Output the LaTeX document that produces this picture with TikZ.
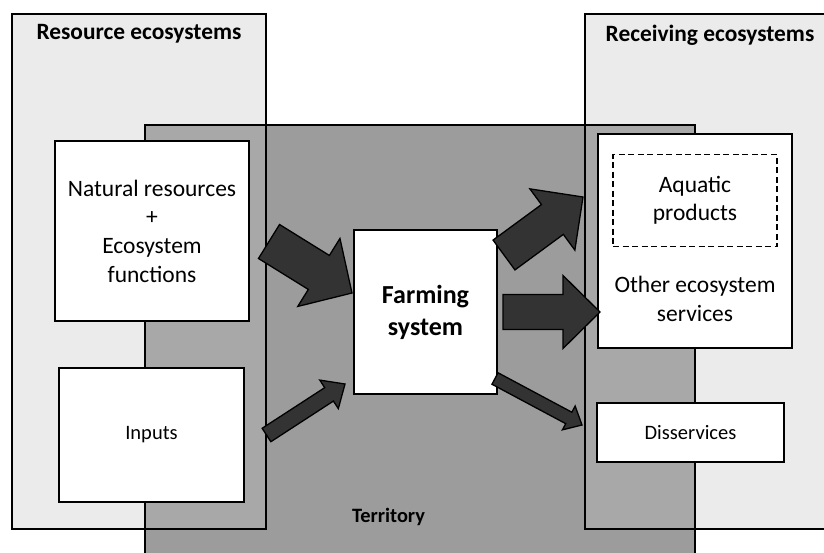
\documentclass[tikz,border=0pt]{standalone}
\usepackage{fontspec}
\setmainfont{Carlito}
\usetikzlibrary{calc}
\definecolor{ecofill}{HTML}{EBEBEB}
\definecolor{terfill}{HTML}{9C9C9C}
\definecolor{ovfill}{HTML}{A8A8A8}
\definecolor{arrfill}{HTML}{333333}
\newcommand\blockarr[5]{%
  \coordinate (hb) at ($(#2)!#5!(#1)$);
  \draw[arrowstyle] ($(#1)!#3!90:(#2)$) -- ($(hb)!#3!90:(#2)$) -- ($(hb)!#4!90:(#2)$) -- (#2)
     -- ($(hb)!#4!-90:(#2)$) -- ($(hb)!#3!-90:(#2)$) -- ($(#1)!#3!-90:(#2)$) -- cycle;
}
\tikzset{
  region/.style={inner sep=0pt, outer sep=0pt},
  regionborder/.style={draw=black, line width=1.8pt},
  whitebox/.style={draw=black, fill=white, line width=1.8pt, inner sep=0pt, outer sep=0pt, align=center,
     font=\fontsize{23.5}{28.7}\selectfont},
  smallbox/.style={whitebox, font=\fontsize{20.5}{25}\selectfont},
  dashbox/.style={draw=black, line width=1.8pt, dash pattern=on 6pt off 3.5pt, inner sep=0pt, align=center,
     font=\fontsize{23.5}{28.5}\selectfont},
  header/.style={font=\bfseries\fontsize{23.4}{28}\selectfont, inner sep=0pt},
  arrowstyle/.style={fill=arrfill, draw=black, line width=1.3pt, line join=miter},
}
\begin{document}
\begin{tikzpicture}[x=1pt, y=-1pt]
\useasboundingbox (0,0) rectangle (824,552);
% regions (fills)
\node[region, fill=terfill, minimum width=550pt, minimum height=445pt] (ter) at (420,347.5) {};
\node[region, fill=ecofill, minimum width=254pt, minimum height=515pt] (res) at (139,271.5) {};
\node[region, fill=ecofill, minimum width=250pt, minimum height=515pt] (rec) at (710,271.5) {};
\fill[ovfill] (ter.north west) rectangle (res.south east);
\fill[ovfill] (rec.south west) rectangle (ter.north east);
% region borders
\draw[regionborder] (ter.north west) rectangle (ter.south east);
\draw[regionborder] (res.north west) rectangle (res.south east);
\draw[regionborder] (rec.north west) rectangle (rec.south east);
% headers
\node[header] (reshead) at (139,34) {Resource ecosystems};
\node[header] (rechead) at (710,35) {Receiving ecosystems};
\node[font=\bfseries\fontsize{20.4}{24}\selectfont, inner sep=0pt] (terlab) at (388.5,517) {Territory};
% boxes
\node[whitebox, minimum width=194pt, minimum height=180pt] (nat) at (152,231) {Natural resources\\+\\Ecosystem\\functions};
\node[smallbox, minimum width=185pt, minimum height=134pt] (inp) at (151.5,435) {Inputs};
\node[whitebox, minimum width=143pt, minimum height=164pt, font=\bfseries\fontsize{26}{32}\selectfont] (farm) at (425.5,312) {Farming\\system};
\node[whitebox, minimum width=194pt, minimum height=214pt] (oth) at (695,241) {};
\node[dashbox, minimum width=164pt, minimum height=92pt] (aqu) at (695,200.5) {Aquatic\\products};
\node[align=center, inner sep=0pt, font=\fontsize{23.5}{28.5}\selectfont] (othlab) at (695,299) {Other ecosystem\\services};
\node[smallbox, minimum width=187pt, minimum height=59pt] (dis) at (690.5,432.5) {Disservices};
% arrows
\coordinate (a1s) at (269,241.5); \coordinate (a1e) at (352,293);
\coordinate (a2s) at (266.5,435); \coordinate (a2e) at (345,384);
\coordinate (a3s) at (504,255);   \coordinate (a3e) at (583,197);
\coordinate (a4s) at (503,312);   \coordinate (a4e) at (600,312);
\coordinate (a5s) at (495,378.5); \coordinate (a5e) at (582,425);
\blockarr{a1s}{a1e}{20pt}{40pt}{39pt}
\blockarr{a2s}{a2e}{8pt}{17pt}{19pt}
\blockarr{a3s}{a3e}{18.5pt}{38pt}{38pt}
\blockarr{a4s}{a4e}{17.5pt}{36.5pt}{37pt}
\blockarr{a5s}{a5e}{6.5pt}{13.5pt}{15pt}
\end{tikzpicture}
\end{document}
